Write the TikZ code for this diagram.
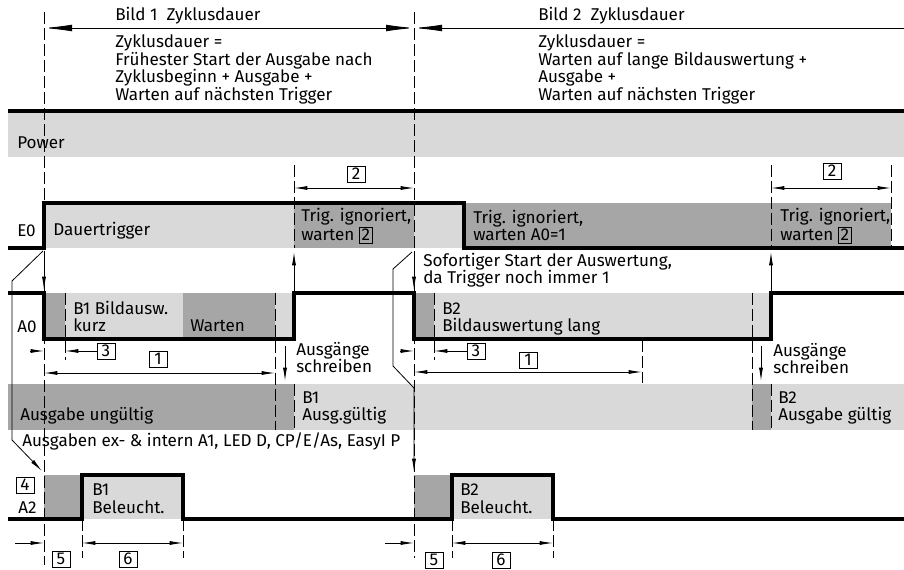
\documentclass[tikz,border=0pt]{standalone}
\usepackage{fontspec}
\setmainfont{Fira Sans}
\usetikzlibrary{arrows.meta, positioning}
\definecolor{hellgrau}{RGB}{217,217,217}
\definecolor{dunkelgrau}{RGB}{166,166,166}
\newcommand{\numbox}[1]{{\fboxsep=1.5pt\fboxrule=0.5pt\fbox{#1}}}

\begin{document}
\begin{tikzpicture}[x=0.75pt, y=-0.75pt,
  font=\fontsize{12.8}{13.3}\selectfont,
  sigline/.style={line width=2.5pt, line join=miter},
  guide/.style={line width=0.6pt, dash pattern=on 9pt off 3pt},
  thinline/.style={line width=0.6pt},
  pfeil/.style={line width=0.6pt, -{Latex[length=10pt,width=3pt]}},
  dimline/.style={line width=0.6pt, {Latex[length=10pt,width=3pt]}-{Latex[length=10pt,width=3pt]}},
  bigdim/.style={line width=0.6pt, {Latex[length=21pt,width=5pt]}-{Latex[length=21pt,width=5pt]}},
  lbl/.style={anchor=base west, inner sep=0, align=left},
  nrbox/.style={draw, line width=0.5pt, inner sep=0, minimum width=13.5pt, minimum height=12pt}
]
\useasboundingbox (0,0) rectangle (904,570);

% Flaechen
\fill[hellgrau] (8,112) rectangle (904,157);
\fill[hellgrau] (44,203) rectangle (294,248);
\fill[dunkelgrau] (294,203) rectangle (414,248);
\fill[hellgrau] (414,203) rectangle (464,248);
\fill[dunkelgrau] (464,203) rectangle (891,248);
\fill[dunkelgrau] (44,293) rectangle (65,339);
\fill[hellgrau] (65,293) rectangle (183,339);
\fill[dunkelgrau] (183,293) rectangle (275,339);
\fill[hellgrau] (275,293) rectangle (294,339);
\fill[dunkelgrau] (414,293) rectangle (434,339);
\fill[hellgrau] (434,293) rectangle (771,339);
\fill[hellgrau] (8,384) rectangle (904,430);
\fill[dunkelgrau] (8,384) rectangle (294,430);
\fill[dunkelgrau] (752,384) rectangle (771,430);
\fill[dunkelgrau] (44,475) rectangle (82,519);
\fill[hellgrau] (82,475) rectangle (183,519);
\fill[dunkelgrau] (414,475) rectangle (452,519);
\fill[hellgrau] (452,475) rectangle (553,519);

% Hilfslinien
\draw[guide] (44,12) -- (44,565);
\draw[guide] (414,12) -- (414,558);
\draw[guide] (294,165) -- (294,248);
\draw[guide] (771,165) -- (771,248);
\draw[guide] (891,165) -- (891,248);
\draw[guide] (65,293) -- (65,360);
\draw[guide] (275,293) -- (275,430);
\draw[guide] (434,293) -- (434,360);
\draw[guide] (642,340) -- (642,383);
\draw[guide] (752,293) -- (752,430);
\draw[guide] (294,384) -- (294,430);
\draw[guide] (771,384) -- (771,430);
\draw[guide] (82,519) -- (82,558);
\draw[guide] (183,519) -- (183,558);
\draw[guide] (452,519) -- (452,558);
\draw[guide] (553,519) -- (553,558);

% Signale
\draw[sigline] (8,111) -- (904,111);
\draw[sigline] (8,248) -- (44,248) -- (44,203) -- (464,203) -- (464,248) -- (904,248);
\draw[sigline] (8,293) -- (44,293) -- (44,339) -- (294,339) -- (294,293) -- (414,293)
  -- (414,339) -- (771,339) -- (771,293) -- (904,293);
\draw[sigline] (8,519) -- (82,519) -- (82,475) -- (183,475) -- (183,519) -- (452,519)
  -- (452,475) -- (553,475) -- (553,519) -- (904,519);

% Zyklusdauer
\draw[bigdim] (44,28) -- (414,28);
\draw[thinline, {Latex[length=21pt,width=5pt]}-] (414,28) -- (904,28);
\node[lbl] (bild1) at (115,21) {Bild 1\ \ Zyklusdauer};
\node[lbl] (formel1) at (115,100.5) {Zyklusdauer =\\Frühester Start der Ausgabe nach\\Zyklusbeginn + Ausgabe +\\Warten auf nächsten Trigger};
\node[lbl] (bild2) at (538,21) {Bild 2\ \ Zyklusdauer};
\node[lbl] (formel2) at (538,100.5) {Zyklusdauer =\\Warten auf lange Bildauswertung +\\Ausgabe +\\Warten auf nächsten Trigger};
\node[lbl] (power) at (17,149) {Power};

% E0
\draw[dimline] (294,188) -- (414,188);
\node[nrbox] (zwei1) at (356,174) {2};
\draw[dimline] (771,188) -- (891,188);
\node[nrbox] (zwei2) at (832,171) {2};
\node[lbl] (e0) at (17,237) {E0};
\node[lbl] (dauer) at (53,236) {Dauertrigger};
\node[lbl] (ign1) at (301,241) {Trig. ignoriert,\\warten \numbox{2}};
\node[lbl] (ign2) at (473,241) {Trig. ignoriert,\\warten A0=1};
\node[lbl] (ign3) at (780,241) {Trig. ignoriert,\\warten \numbox{2}};

% Uebergaenge
\draw[pfeil] (44,251) -- (44,290);
\draw[pfeil] (294,291) -- (294,252);
\draw[pfeil] (414,251) -- (414,290);
\draw[pfeil] (771,291) -- (771,252);
\draw[pfeil] (43,251) -- (12,281) -- (12,440) -- (42,471);
\draw[pfeil] (412,252) -- (393,269) -- (393,366) -- (414,388) -- (414,472);
\node[lbl] (sofort) at (423,284) {Sofortiger Start der Auswertung,\\da Trigger noch immer 1};

% A0
\node[lbl] (a0) at (17,333) {A0};
\node[lbl] (b1ausw) at (73,332) {B1 Bildausw.\\kurz};
\node[lbl] (warten) at (190,332) {Warten};
\node[lbl] (b2ausw) at (442,332) {B2\\Bildauswertung lang};
\node[nrbox] (drei1) at (106,351) {3};
\draw[pfeil] (30,351) -- (44,351);
\draw[pfeil] (drei1.west) -- (65,351);
\node[nrbox] (drei2) at (476,351) {3};
\draw[pfeil] (400,351) -- (414,351);
\draw[pfeil] (drei2.west) -- (434,351);
\draw[dimline] (44,373) -- (275,373);
\node[nrbox] (eins1) at (158,359) {1};
\draw[dimline] (414,372) -- (642,372);
\node[nrbox] (eins2) at (528,360) {1};
\draw[pfeil] (285,346) -- (285,381);
\node[lbl] (schreib1) at (296,373) {Ausgänge\\schreiben};
\draw[pfeil] (761,346) -- (761,381);
\node[lbl] (schreib2) at (773,374) {Ausgänge\\schreiben};

% Ausgabe
\node[lbl] (ungueltig) at (20,421) {Ausgabe ungültig};
\node[lbl] (gueltig1) at (302,421) {B1\\Ausg.gültig};
\node[lbl] (gueltig2) at (778,421) {B2\\Ausgabe gültig};
\node[lbl] (ausgaben) at (22,446) {Ausgaben ex- \& intern A1, LED D, CP/E/As, EasyI P};

% A2
\node[nrbox] (vier) at (25,485) {4};
\node[lbl] (a2) at (18,513) {A2};
\node[lbl] (bel1) at (92,513) {B1\\Beleucht.};
\node[lbl] (bel2) at (460,513) {B2\\Beleucht.};
\draw[pfeil] (15,543) -- (44,543);
\draw[dimline] (82,543) -- (183,543);
\node[nrbox] (fuenf1) at (61,559) {5};
\node[nrbox] (sechs1) at (128,559) {6};
\draw[pfeil] (385,543) -- (414,543);
\draw[dimline] (452,543) -- (553,543);
\node[nrbox] (fuenf2) at (434,560) {5};
\node[nrbox] (sechs2) at (501,560) {6};
\end{tikzpicture}
\end{document}
